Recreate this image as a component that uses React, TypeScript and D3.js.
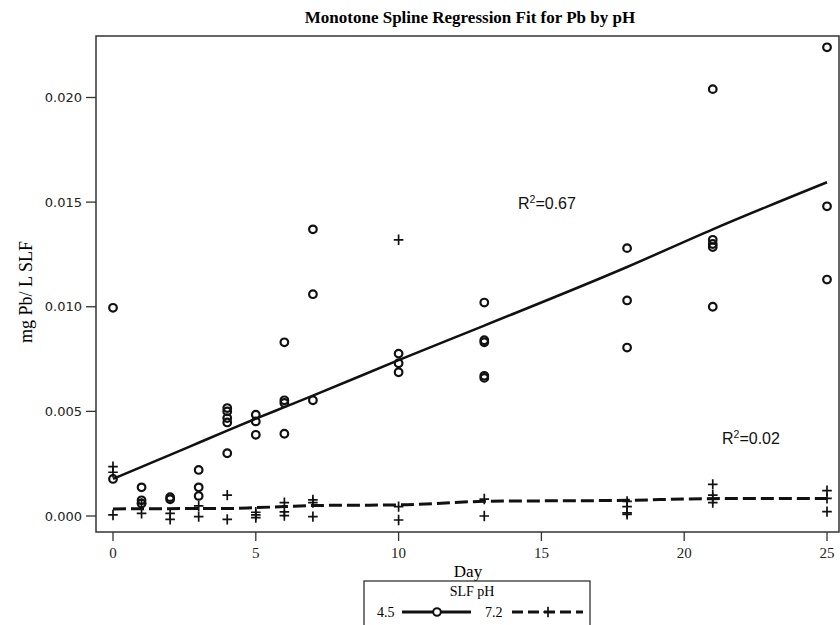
import React from "react";
import * as d3 from "d3";

// pH 4.5 observations (day, mg Pb/L)
const days45 = [0, 0, 1, 1, 1, 2, 2, 3, 3, 3, 4, 4, 4, 4, 4, 5, 5, 5, 6, 6, 6, 6, 7, 7, 7, 10, 10, 10, 13, 13, 13, 13, 13, 18, 18, 18, 21, 21, 21, 21, 21, 25, 25, 25];
const vals45 = [0.00995, 0.00177, 0.00137, 0.00075, 0.0006, 0.0009, 0.0008, 0.0022, 0.00137, 0.00096, 0.00516, 0.005, 0.00468, 0.00447, 0.003, 0.00484, 0.00452, 0.00388, 0.0083, 0.00553, 0.0054, 0.00393, 0.0137, 0.0106, 0.00553, 0.00776, 0.0073, 0.00687, 0.0102, 0.0084, 0.0083, 0.0067, 0.0066, 0.0128, 0.0103, 0.00805, 0.0204, 0.0132, 0.013, 0.01285, 0.01, 0.0224, 0.0148, 0.0113];

// pH 7.2 observations
const days72 = [0, 0, 0, 1, 1, 2, 2, 3, 3, 4, 4, 5, 5, 5, 6, 6, 6, 7, 7, 7, 10, 10, 10, 13, 13, 18, 18, 18, 18, 21, 21, 21, 21, 25, 25, 25];
const vals72 = [0.00236, 0.00209, 0.00005, 0.0006, 0.00013, 0.00013, -0.00016, 0.00048, -0.00003, 0.001, -0.00016, 0.00018, 0.00005, -0.00008, 0.00064, 0.0002, 0.00002, 0.00077, 0.00064, -0.00003, 0.0132, 0.00045, -0.00019, 0.00081, 0.0, 0.0007, 0.00045, 0.00015, 0.00008, 0.00151, 0.001, 0.00084, 0.00064, 0.00121, 0.00084, 0.00021];

// fitted monotone splines
const fitDays = [0, 1, 2, 3, 4, 5, 6, 7, 10, 13, 18, 21, 25];
const fit45 = [0.00177, 0.00235, 0.00292, 0.0035, 0.00408, 0.00465, 0.0052, 0.00575, 0.00745, 0.0091, 0.0119, 0.0137, 0.01595];
const fit72 = [0.00033, 0.00035, 0.00035, 0.00036, 0.00036, 0.0004, 0.00045, 0.0005, 0.00053, 0.0007, 0.00075, 0.00083, 0.00084];

const xTicks = [0, 5, 10, 15, 20, 25];
const yTicks = [0, 0.005, 0.01, 0.015, 0.02];

const W = 840, H = 625;
const L = 96, R = 839, T = 36, B = 532;

export default function App() {
  const x = d3.scaleLinear().domain([0, 25]).range([113, 827]);
  const y = d3.scaleLinear().domain([0, 0.02]).range([516, 97.5]);
  const line = d3.line<[number, number]>().x(d => x(d[0])).y(d => y(d[1])).curve(d3.curveMonotoneX);
  const p45 = line(fitDays.map((d, i) => [d, fit45[i]] as [number, number])) || "";
  const p72 = line(fitDays.map((d, i) => [d, fit72[i]] as [number, number])) || "";
  const plus = (cx: number, cy: number, k: string) => (
    <path key={k} d={`M${cx - 4.8},${cy}H${cx + 4.8}M${cx},${cy - 5.2}V${cy + 5.2}`} stroke="#111" strokeWidth={1.7} fill="none" />
  );
  return (
    <svg width={W} height={H} style={{ position: "absolute", left: 0, top: 0 }}>
      <rect width={W} height={H} fill="#fff" />
      <text x={470} y={23} textAnchor="middle" fontFamily="Liberation Serif" fontWeight="bold" fontSize={17}>Monotone Spline Regression Fit for Pb by pH</text>
      <rect x={L} y={T} width={R - L} height={B - T} fill="none" stroke="#333" strokeWidth={1.5} />
      {yTicks.map(t => (
        <g key={t}>
          <line x1={L - 10} x2={L} y1={y(t)} y2={y(t)} stroke="#333" strokeWidth={1.3} />
          <text x={82} y={y(t) + 4.5} textAnchor="end" fontFamily="DejaVu Sans" fontSize={13} fill="#222">{d3.format(".3f")(t)}</text>
        </g>
      ))}
      {xTicks.map(t => (
        <g key={t}>
          <line x1={x(t)} x2={x(t)} y1={B} y2={B + 9} stroke="#333" strokeWidth={1.3} />
          <text x={x(t)} y={B + 26} textAnchor="middle" fontFamily="Liberation Serif" fontSize={15} fill="#222">{t}</text>
        </g>
      ))}
      <text x={468} y={577} textAnchor="middle" fontFamily="Liberation Serif" fontSize={17}>Day</text>
      <text transform="translate(32,292) rotate(-90)" textAnchor="middle" fontFamily="Liberation Serif" fontSize={18}>mg Pb/ L SLF</text>
      <path d={p45} fill="none" stroke="#111" strokeWidth={2.5} />
      <path d={p72} fill="none" stroke="#111" strokeWidth={3} strokeDasharray="13,5" />
      {days45.map((d, i) => (
        <circle key={"c" + i} cx={x(d)} cy={y(vals45[i])} r={3.8} fill="none" stroke="#111" strokeWidth={2.2} />
      ))}
      {days72.map((d, i) => plus(x(d), y(vals72[i]), "p" + i))}
      <text x={518} y={209} fontFamily="Liberation Sans" fontSize={16} fill="#111">R<tspan dy={-6} fontSize={10.5}>2</tspan><tspan dy={6}>=0.67</tspan></text>
      <text x={722} y={444} fontFamily="Liberation Sans" fontSize={16} fill="#111">R<tspan dy={-6} fontSize={10.5}>2</tspan><tspan dy={6}>=0.02</tspan></text>
      <rect x={364} y={581} width={226} height={50} fill="none" stroke="#333" strokeWidth={1.3} />
      <text x={472} y={596} textAnchor="middle" fontFamily="Liberation Serif" fontSize={14}>SLF pH</text>
      <text x={377} y={617} fontFamily="Liberation Serif" fontSize={14}>4.5</text>
      <line x1={402} x2={471} y1={612} y2={612} stroke="#111" strokeWidth={3} />
      <circle cx={437} cy={612} r={3.8} fill="#fff" stroke="#111" strokeWidth={2} />
      <text x={485} y={617} fontFamily="Liberation Serif" fontSize={14}>7.2</text>
      <line x1={512} x2={583} y1={612} y2={612} stroke="#111" strokeWidth={3} strokeDasharray="11,5" />
      {plus(548, 612, "lp")}
    </svg>
  );
}
